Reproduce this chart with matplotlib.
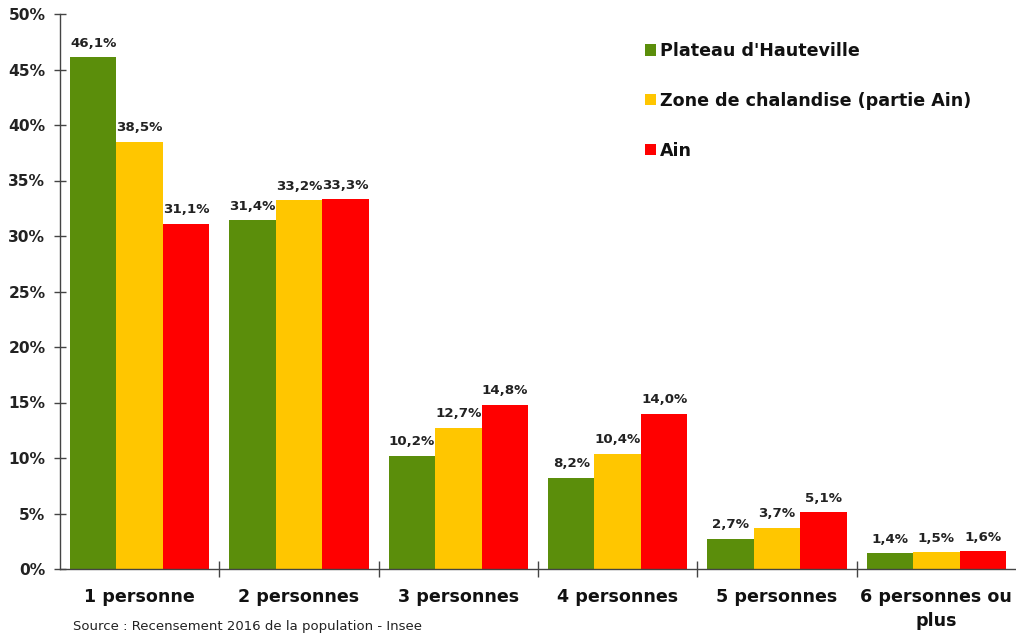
import matplotlib
matplotlib.use("Agg")
import matplotlib.pyplot as plt
import numpy as np
from matplotlib.ticker import FixedLocator, FuncFormatter

categories = ["1 personne", "2 personnes", "3 personnes", "4 personnes", "5 personnes", "6 personnes ou\nplus"]
series_names = ["Plateau d'Hauteville", "Zone de chalandise (partie Ain)", "Ain"]
plateau = [46.1, 31.4, 10.2, 8.2, 2.7, 1.4]
zone = [38.5, 33.2, 12.7, 10.4, 3.7, 1.5]
ain = [31.1, 33.3, 14.8, 14.0, 5.1, 1.6]
colors = ["#5b8e0b", "#ffc600", "#ff0000"]
yticks = [0, 5, 10, 15, 20, 25, 30, 35, 40, 45, 50]

plt.rcParams['font.family'] = ['DejaVu Sans']
fig = plt.figure(figsize=(10.16, 6.34), dpi=100)
ax = fig.add_axes([60/1016, 65/634, 956/1016, 555/634])

x = np.arange(len(categories))
w = 0.292
handles = []
for i, (vals, name, c) in enumerate(zip([plateau, zone, ain], series_names, colors)):
    bars = ax.bar(x + (i - 1) * w, vals, w, color=c, label=name, edgecolor='none')
    handles.append(bars)
    for xi, v in zip(x + (i - 1) * w, vals):
        ax.annotate(f"{v:.1f}%".replace('.', ','), (xi, v), xytext=(0, 5.5),
                    textcoords='offset points', ha='center', va='bottom',
                    fontsize=9.6, fontweight='bold', color='#222222')

ax.set_xlim(-0.5, 5.5)
ax.set_ylim(0, 50)
ax.yaxis.set_major_locator(FixedLocator(yticks))
ax.yaxis.set_major_formatter(FuncFormatter(lambda v, p: f"{int(v)}%"))
ax.set_xticks(x)
ax.set_xticklabels(categories)
ax.xaxis.set_minor_locator(FixedLocator([0.5, 1.5, 2.5, 3.5, 4.5]))

for s in ['top', 'right']:
    ax.spines[s].set_visible(False)
for s in ['left', 'bottom']:
    ax.spines[s].set_color('#444444')
    ax.spines[s].set_linewidth(1.0)

ax.tick_params(axis='y', direction='inout', length=9, width=1, color='#444444',
               labelsize=11.2, pad=6, labelcolor='#222222')
for t in ax.get_yticklabels():
    t.set_fontweight('bold')
ax.tick_params(axis='x', which='major', length=0, pad=13.5, labelsize=12.6, labelcolor='#111111')
ax.tick_params(axis='x', which='minor', direction='inout', length=11, width=1, color='#444444')
for t in ax.get_xticklabels():
    t.set_fontweight('bold')
    t.set_linespacing(1.45)

leg = ax.legend(handles=handles, loc='upper left', bbox_to_anchor=(585/956, 1 - 28/555),
                frameon=False, prop={'weight': 'bold', 'size': 12.6},
                handlelength=0.62, handleheight=0.62, handletextpad=0.25,
                labelspacing=1.82, borderpad=0, borderaxespad=0)
for t in leg.get_texts():
    t.set_color('#111111')

fig.text(73/1016, 1/634, "Source : Recensement 2016 de la population - Insee",
         ha='left', va='bottom', fontsize=9.5, color='#222222')

fig.savefig("out.png", dpi=100)
